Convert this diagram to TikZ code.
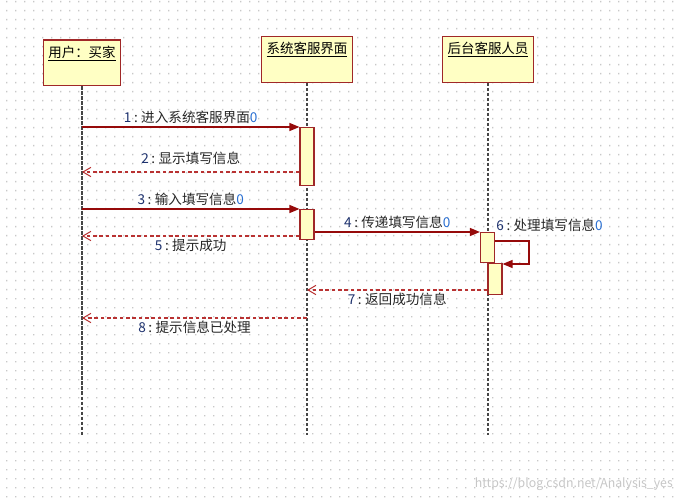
\documentclass[tikz,border=0pt]{standalone}
\usepackage{fontspec}
\newfontfamily\cjk{Noto Sans CJK SC}
\usetikzlibrary{arrows.meta, positioning, calc}

\definecolor{boxfill}{RGB}{255,255,196}
\definecolor{boxline}{RGB}{160,40,40}
\definecolor{msgred}{RGB}{150,10,10}
\definecolor{retred}{RGB}{185,50,50}
\definecolor{lifegray}{RGB}{70,70,70}
\definecolor{griddot}{RGB}{200,200,200}
\definecolor{numcol}{RGB}{30,50,110}
\definecolor{zerocol}{RGB}{40,110,210}

\newcommand{\msgnum}[1]{\textcolor{numcol}{#1}\kern0.8mm:\kern1mm}
\newcommand{\zero}{\textcolor{zerocol}{0}}

\begin{document}
\begin{tikzpicture}[
    x=0.3mm, y=-0.3mm,
    objbox/.style={draw=boxline, fill=boxfill, line width=0.4mm, inner sep=0.6mm,
      text height=4.5mm, text depth=8mm, align=center, font=\cjk\fontsize{11.5}{13}\selectfont},
    actbar/.style={draw=boxline, fill=boxfill, line width=0.35mm, minimum width=4.2mm, inner sep=0pt, anchor=north},
    lifeline/.style={draw=lifegray, line width=0.5mm, dash pattern=on 1mm off 0.5mm},
    msg/.style={draw=msgred, line width=0.4mm, -{Triangle[length=3mm, width=2.4mm]}},
    ret/.style={draw=retred, line width=0.35mm, dash pattern=on 1.1mm off 0.8mm, -{Straight Barb[length=2.4mm, width=2.8mm, line width=0.3mm]}},
    lbl/.style={font=\cjk\fontsize{11.6}{13}\selectfont, text=black!85, inner sep=0.8mm}
  ]
    \useasboundingbox[fill=white] (0,0) rectangle (675,500);
    % dotted background
    \fill[griddot] \foreach \gx in {6,15,...,672}{\foreach \gy in {1,10,...,496}{ (\gx,\gy) rectangle ++(1.3,1.3) }};

    \node[objbox, minimum width=23.1mm] (user) at (82,63) {\underline{用户：买家}};
    \node[objbox, minimum width=27.3mm] (ui) at (307,59.5) {\underline{系统客服界面}};
    \node[objbox, minimum width=27.3mm] (staff) at (488,59.5) {\underline{后台客服人员}};

    \coordinate (lifeend) at (0,435);
    \draw[lifeline] (user.south) -- (user |- lifeend);
    \draw[lifeline] (ui.south) -- (ui |- lifeend);
    \draw[lifeline] (staff.south) -- (staff |- lifeend);

    \node[actbar, minimum height=17.4mm] (ui act1) at (307,127) {};
    \node[actbar, minimum height=9mm] (ui act2) at (307,209) {};
    \node[actbar, minimum height=9mm] (staff act1) at (487.5,232) {};
    \node[actbar, minimum height=9.3mm] (staff act2) at (495,263) {};

    \coordinate (r2) at (0,172);
    \coordinate (r5) at (0,236);
    \coordinate (r7) at (0,290);
    \coordinate (r8) at (0,318);
    \coordinate (loopt) at (529,241);
    \coordinate (loopb) at (529,264);

    \draw[msg] (user |- ui act1.north) -- node[lbl, above]{\msgnum{1}进入系统客服界面\zero} (ui act1.north west);
    \draw[ret] (ui act1.west |- r2) -- node[lbl, above=1.2mm]{\msgnum{2}显示填写信息} (user |- r2);
    \draw[msg] (user |- ui act2.north) -- node[lbl, above]{\msgnum{3}输入填写信息\zero} (ui act2.north west);
    \draw[msg] (ui act2.east |- staff act1.north) -- node[lbl, above]{\msgnum{4}传递填写信息\zero} (staff act1.north west);
    \draw[ret] (ui act2.west |- r5) -- node[lbl, below]{\msgnum{5}提示成功} (user |- r5);
    \draw[msg] (staff act1.east |- loopt) -- (loopt) -- (loopb) -- (staff act2.east |- loopb);
    \node[lbl, anchor=south west, inner sep=0.3mm] (lbl6) at ([yshift=-0.3mm]staff act1.north east) {\msgnum{6}处理填写信息\zero};
    \draw[ret] (staff act2.west |- r7) -- node[lbl, below]{\msgnum{7}返回成功信息} (ui |- r7);
    \draw[ret] (ui |- r8) -- node[lbl, below]{\msgnum{8}提示信息已处理} (user |- r8);

    \node[font=\cjk\fontsize{10.5}{12}\selectfont, text=black!22, anchor=east, inner sep=0pt] (mark) at (673,484) {https://blog.csdn.net/Analysis\_yes};
\end{tikzpicture}
\end{document}
